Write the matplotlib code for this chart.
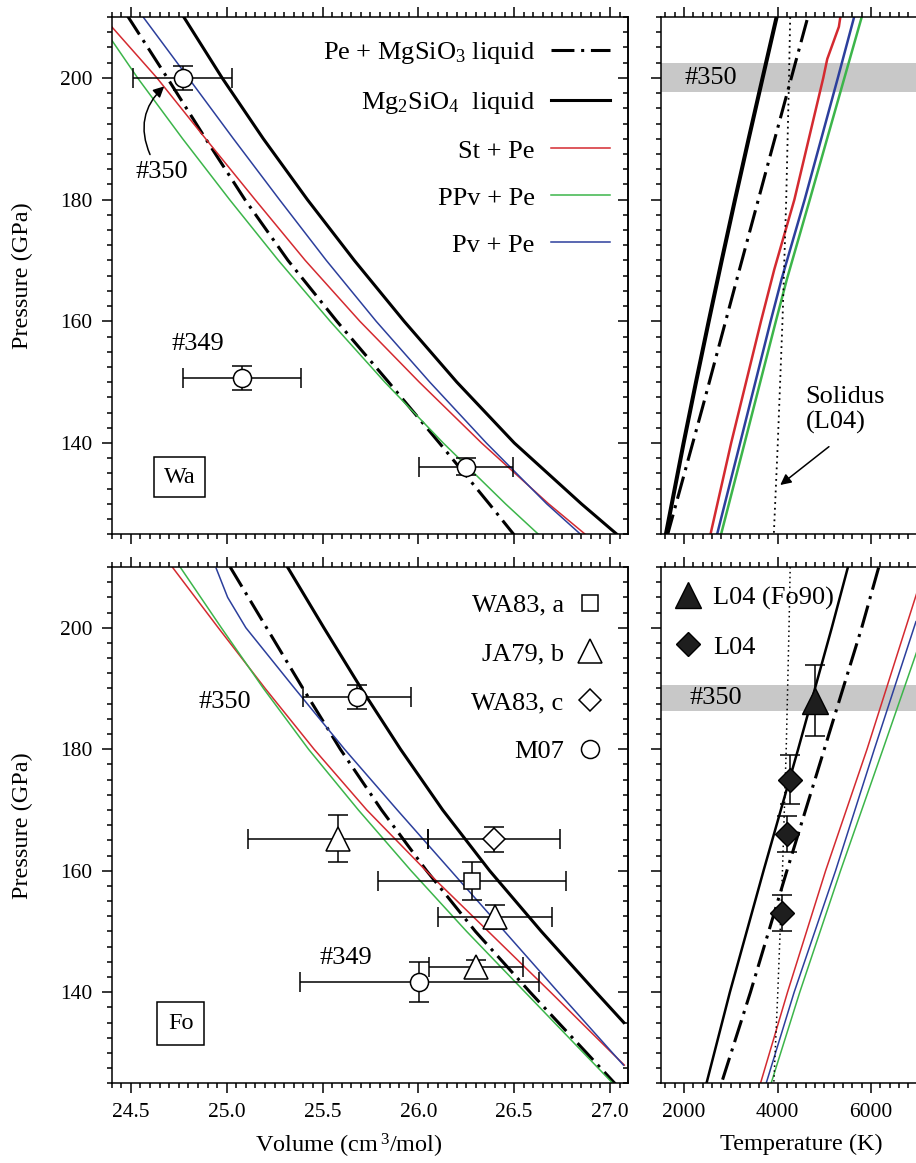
import matplotlib
matplotlib.use('Agg')
import matplotlib.pyplot as plt
from matplotlib.ticker import MultipleLocator, FormatStrFormatter

plt.rcParams['font.family'] = ['Liberation Serif', 'DejaVu Serif']
plt.rcParams['mathtext.fontset'] = 'custom'
plt.rcParams['mathtext.rm'] = 'Liberation Serif'
plt.rcParams['mathtext.it'] = 'Liberation Serif:italic'
plt.rcParams['mathtext.bf'] = 'Liberation Serif:bold'

# ---------------- DATA ----------------
# Wa (top-left): pressure (GPa) vs volume (cm3/mol)
wa_grid_P = [210.3, 200, 190, 180, 170, 160, 150, 140, 130, 124.9]
wa_mg2sio4_V = [24.77, 24.976, 25.191, 25.421, 25.666, 25.926, 26.201, 26.501, 26.851, 27.04]
wa_pemg_V = [24.48, 24.69, 24.89, 25.095, 25.32, 25.575, 25.845, 26.11, 26.37, 26.50]
wa_pv_V = [24.557, 24.80, 25.035, 25.275, 25.52, 25.78, 26.06, 26.355, 26.67, 26.85]
wa_st_P = [208.4, 200, 190, 180, 170, 160, 150, 140, 130, 124.9]
wa_st_V = [24.40, 24.636, 24.89, 25.148, 25.41, 25.695, 26.005, 26.33, 26.68, 26.875]
wa_ppv_P = [206.2, 200, 190, 180, 170, 160, 150, 140, 130, 124.9]
wa_ppv_V = [24.40, 24.535, 24.77, 25.015, 25.27, 25.54, 25.825, 26.13, 26.455, 26.63]
# M07 data (Wa)
wa_m07_V = [24.77, 25.08, 26.25]
wa_m07_P = [200.0, 150.7, 136.1]
wa_m07_Verr = [0.26, 0.31, 0.245]
wa_m07_Perr = [2.0, 2.0, 1.4]

# Fo (bottom-left)
fo_mg2sio4_P = [210, 200, 190, 180, 170, 160, 150, 140, 135]
fo_mg2sio4_V = [25.317, 25.507, 25.702, 25.907, 26.127, 26.372, 26.642, 26.927, 27.072]
fo_grid_P = [210, 200, 190, 180, 170, 160, 150, 140, 130, 124.9]
fo_pemg_V = [25.018, 25.208, 25.398, 25.593, 25.808, 26.043, 26.298, 26.583, 26.878, 27.028]
fo_ppv_V = [24.757, 24.972, 25.192, 25.427, 25.687, 25.962, 26.252, 26.557, 26.862, 27.018]
fo_st_P = [210, 200, 190, 180, 170, 160, 150, 140, 130, 128]
fo_st_V = [24.716, 24.956, 25.201, 25.456, 25.731, 26.04, 26.365, 26.69, 27.01, 27.075]
fo_pv_P = [209.8, 205, 200, 190, 180, 170, 160, 150, 140, 128]
fo_pv_V = [24.945, 25.005, 25.10, 25.355, 25.615, 25.89, 26.17, 26.45, 26.73, 27.07]
# experimental data (Fo)
wa83a_V = [26.28]
wa83a_P = [158.3]
wa83a_Verr = [0.49]
wa83a_Perr = [3.1]
ja79b_V = [25.58, 26.40, 26.30]
ja79b_P = [165.3, 152.4, 144.1]
ja79b_Verr = [0.47, 0.295, 0.245]
ja79b_Perr = [3.8, 2.0, 1.2]
wa83c_V = [26.395]
wa83c_P = [165.2]
wa83c_Verr = [0.345]
wa83c_Perr = [2.05]
fo_m07_V = [25.68, 26.005]
fo_m07_P = [188.6, 141.7]
fo_m07_Verr = [0.28, 0.625]
fo_m07_Perr = [2.0, 3.3]

# Wa temperature panel (top-right): pressure vs temperature (K)
wat_mg2sio4_P = [210.2, 200, 190, 180, 170, 160, 150, 140, 125]
wat_mg2sio4_T = [3986, 3680, 3382, 3090, 2805, 2527, 2255, 1990, 1611]
wat_pemg_P = [209.5, 188, 167.5, 146, 125]
wat_pemg_T = [4630, 3870, 3150, 2400, 1650]
wat_st_P = [210.2, 208.4, 203.1, 200, 180, 168.5, 160, 140, 125.1]
wat_st_T = [5347, 5312, 5063, 4978, 4360, 3929, 3645, 3007, 2568]
wat_pv_P = [210.2, 200, 180, 166.9, 160, 140, 125.1]
wat_pv_T = [5645, 5290, 4580, 4085, 3851, 3199, 2710]
wat_ppv_P = [210.2, 200, 180, 166.9, 160, 140, 125.1]
wat_ppv_T = [5808, 5430, 4690, 4199, 3963, 3295, 2795]

# Fo temperature panel (bottom-right)
fot_mg2sio4_P = [209.9, 200, 180, 160, 140, 124.9]
fot_mg2sio4_T = [5503, 5160, 4440, 3700, 2980, 2476]
fot_pemg_P = [209.9, 200, 180, 160, 140, 124.9]
fot_pemg_T = [6162, 5800, 5000, 4200, 3420, 2795]
fot_st_P = [206, 180, 160, 140, 124.9]
fot_st_T = [6990, 5914, 5028, 4213, 3631]
fot_pv_P = [201, 180, 160, 140, 124.9]
fot_pv_T = [6960, 6070, 5241, 4355, 3752]
fot_ppv_P = [197, 180, 160, 140, 124.9]
fot_ppv_T = [7020, 6255, 5347, 4475, 3858]

# Solidus (L04)
solidus_P = [210, 200, 180, 160, 140, 125]
solidus_T = [4270, 4245, 4185, 4105, 4005, 3920]

# L04 data
l04_fo90_T = [4800]
l04_fo90_P = [188.0]
l04_fo90_Perr = [5.9]
l04_T = [4270, 4210, 4105]
l04_P = [175.0, 166.0, 153.0]
l04_Perr = [4.0, 3.0, 3.0]

# shock #350 pressure bands
wa_350_P, wa_350_dP = 200.0, 2.4
fo_350_P, fo_350_dP = 188.4, 2.1

labels_curves = [r'Pe + MgSiO$_3$ liquid', r'Mg$_2$SiO$_4$  liquid',
                 'St + Pe', 'PPv + Pe', 'Pv + Pe']

# ---------------- STYLE ----------------
RED = '#d42a30'
GREEN = '#3cb54a'
BLUE = '#2c3f9c'
BAND = '#c8c8c8'
DD = (0, (7.5, 2.2, 1.0, 2.2))
TICK_FS = 15.5
LAB_FS = 17.5
TXT_FS = 19

W, H = 916, 1163
fig = plt.figure(figsize=(W / 100, H / 100), dpi=100)

def frac(l, r, t, b):
    return [l / W, 1 - b / H, (r - l) / W, (b - t) / H]

ax_tl = fig.add_axes(frac(111.7, 628.0, 17.0, 534.3))
ax_bl = fig.add_axes(frac(111.7, 628.0, 567.0, 1083.3))
ax_tr = fig.add_axes(frac(660.7, 917.8, 17.0, 534.3))
ax_br = fig.add_axes(frac(660.7, 917.8, 567.0, 1083.3))

def style(ax, xmaj, xmin, xfmt, xlabels, ylabels, right_in):
    ax.xaxis.set_major_locator(MultipleLocator(xmaj))
    ax.xaxis.set_minor_locator(MultipleLocator(xmin))
    ax.xaxis.set_major_formatter(FormatStrFormatter(xfmt))
    ax.yaxis.set_major_locator(MultipleLocator(20))
    ax.yaxis.set_minor_locator(MultipleLocator(2.5))
    ax.tick_params(which='both', direction='out', top=True, bottom=True,
                   left=True, right=False, width=1.1, labelsize=TICK_FS,
                   labelbottom=xlabels, labelleft=ylabels, labeltop=False)
    ax.tick_params(which='major', length=7, pad=7)
    ax.tick_params(which='minor', length=3.6)
    for s in ax.spines.values():
        s.set_linewidth(1.1)
    ax.set_ylim(125, 210)
    if right_in:
        sec = ax.secondary_yaxis('right')
        sec.yaxis.set_major_locator(MultipleLocator(20))
        sec.yaxis.set_minor_locator(MultipleLocator(2.5))
        sec.tick_params(which='both', direction='in', width=1.1, labelright=False)
        sec.tick_params(which='major', length=7)
        sec.tick_params(which='minor', length=3.6)
        sec.spines['right'].set_linewidth(1.1)

for ax in (ax_tl, ax_bl):
    ax.set_xlim(24.4, 27.094)
for ax in (ax_tr, ax_br):
    ax.set_xlim(1500, 7000)

style(ax_tl, 0.5, 0.05, '%.1f', False, True, True)
style(ax_bl, 0.5, 0.05, '%.1f', True, True, True)
style(ax_tr, 2000, 200, '%d', False, False, False)
style(ax_br, 2000, 200, '%d', True, False, False)

# ---------- top-left (Wa) ----------
h_dd, = ax_tl.plot(wa_pemg_V, wa_grid_P, color='black', lw=2.2, linestyle=DD)
h_bk, = ax_tl.plot(wa_mg2sio4_V, wa_grid_P, color='black', lw=2.2)
h_st, = ax_tl.plot(wa_st_V, wa_st_P, color=RED, lw=1.1)
h_ppv, = ax_tl.plot(wa_ppv_V, wa_ppv_P, color=GREEN, lw=1.1)
h_pv, = ax_tl.plot(wa_pv_V, wa_grid_P, color=BLUE, lw=1.1)
eb_kw = dict(fmt='none', ecolor='black', elinewidth=1.1, capsize=7, capthick=1.1, zorder=4)
ax_tl.errorbar(wa_m07_V, wa_m07_P, xerr=wa_m07_Verr, yerr=wa_m07_Perr, **eb_kw)
ax_tl.plot(wa_m07_V, wa_m07_P, 'o', ms=13, mfc='white', mec='black', mew=1.1, zorder=5)
ax_tl.legend([h_dd, h_bk, h_st, h_ppv, h_pv], labels_curves, loc='upper right',
             bbox_to_anchor=(0.965, 0.955), frameon=False, markerfirst=False,
             fontsize=TXT_FS, handlelength=2.25, handletextpad=0.6,
             labelspacing=0.89, borderpad=0, borderaxespad=0)
ax_tl.text(24.66, 184.5, '#350', ha='center', va='center', fontsize=TXT_FS)
ax_tl.annotate('', xy=(24.674, 198.6), xytext=(24.60, 187.4),
               arrowprops=dict(arrowstyle='-|>', connectionstyle='arc3,rad=-0.35',
                               color='black', lw=1.1, mutation_scale=16,
                               shrinkA=0, shrinkB=0))
ax_tl.text(24.85, 156.2, '#349', ha='center', va='center', fontsize=TXT_FS)
ax_tl.text(24.755, 134.4, 'Wa', ha='center', va='center', fontsize=LAB_FS,
           bbox=dict(boxstyle='square,pad=0.4', fc='white', ec='black', lw=1.1))
ax_tl.set_ylabel('Pressure (GPa)', fontsize=LAB_FS)
ax_tl.yaxis.set_label_coords(-0.152, 0.5)

# ---------- bottom-left (Fo) ----------
ax_bl.plot(fo_pemg_V, fo_grid_P, color='black', lw=2.2, linestyle=DD)
ax_bl.plot(fo_mg2sio4_V, fo_mg2sio4_P, color='black', lw=2.2)
ax_bl.plot(fo_st_V, fo_st_P, color=RED, lw=1.1)
ax_bl.plot(fo_ppv_V, fo_grid_P, color=GREEN, lw=1.1)
ax_bl.plot(fo_pv_V, fo_pv_P, color=BLUE, lw=1.1)
ax_bl.errorbar(wa83a_V, wa83a_P, xerr=wa83a_Verr, yerr=wa83a_Perr, **eb_kw)
ax_bl.errorbar(ja79b_V, ja79b_P, xerr=ja79b_Verr, yerr=ja79b_Perr, **eb_kw)
ax_bl.errorbar(wa83c_V, wa83c_P, xerr=wa83c_Verr, yerr=wa83c_Perr, **eb_kw)
ax_bl.errorbar(fo_m07_V, fo_m07_P, xerr=fo_m07_Verr, yerr=fo_m07_Perr, **eb_kw)
mk = dict(mfc='white', mec='black', mew=1.1, zorder=5, linestyle='none')
h_sq, = ax_bl.plot(wa83a_V, wa83a_P, marker='s', ms=11.5, **mk)
h_tri, = ax_bl.plot(ja79b_V, ja79b_P, marker='^', ms=17, **mk)
h_dia, = ax_bl.plot(wa83c_V, wa83c_P, marker='D', ms=11.5, **mk)
h_cir, = ax_bl.plot(fo_m07_V, fo_m07_P, marker='o', ms=13, **mk)
ax_bl.legend([h_sq, h_tri, h_dia, h_cir], ['WA83, a', 'JA79, b', 'WA83, c', 'M07'],
             loc='upper right', bbox_to_anchor=(0.951, 0.949), frameon=False,
             markerfirst=False, numpoints=1, fontsize=TXT_FS, handlelength=1.0,
             handletextpad=0.48, labelspacing=0.96, borderpad=0, borderaxespad=0)
ax_bl.text(24.99, 187.8, '#350', ha='center', va='center', fontsize=TXT_FS)
ax_bl.text(25.62, 145.6, '#349', ha='center', va='center', fontsize=TXT_FS)
ax_bl.text(24.76, 134.8, 'Fo', ha='center', va='center', fontsize=LAB_FS,
           bbox=dict(boxstyle='square,pad=0.45', fc='white', ec='black', lw=1.1))
ax_bl.set_ylabel('Pressure (GPa)', fontsize=LAB_FS)
ax_bl.yaxis.set_label_coords(-0.152, 0.5)
ax_bl.set_xlabel(r'Volume (cm$\,^{3}$/mol)', fontsize=LAB_FS)
ax_bl.xaxis.set_label_coords(0.46, -0.094)

# ---------- top-right (Wa, temperature) ----------
ax_tr.axhspan(wa_350_P - wa_350_dP, wa_350_P + wa_350_dP, color=BAND, lw=0, zorder=0)
ax_tr.plot(wat_mg2sio4_T, wat_mg2sio4_P, color='black', lw=2.9)
ax_tr.plot(wat_pemg_T, wat_pemg_P, color='black', lw=2.2, linestyle=DD)
ax_tr.plot(wat_st_T, wat_st_P, color=RED, lw=1.8)
ax_tr.plot(wat_pv_T, wat_pv_P, color=BLUE, lw=1.8)
ax_tr.plot(wat_ppv_T, wat_ppv_P, color=GREEN, lw=1.8)
ax_tr.plot(solidus_T, solidus_P, color='black', lw=1.3, linestyle=(0, (1, 2.2)))
ax_tr.text(2010, wa_350_P, '#350', ha='left', va='center', fontsize=TXT_FS)
ax_tr.text(4600, 145.4, 'Solidus\n(L04)', ha='left', va='center', fontsize=TXT_FS,
           linespacing=1.15)
ax_tr.annotate('', xy=(4057, 133.1), xytext=(5099, 139.4),
               arrowprops=dict(arrowstyle='-|>', color='black', lw=1.1,
                               mutation_scale=16, shrinkA=0, shrinkB=0))

# ---------- bottom-right (Fo, temperature) ----------
ax_br.axhspan(fo_350_P - fo_350_dP, fo_350_P + fo_350_dP, color=BAND, lw=0, zorder=0)
ax_br.plot(fot_mg2sio4_T, fot_mg2sio4_P, color='black', lw=1.8)
ax_br.plot(fot_pemg_T, fot_pemg_P, color='black', lw=2.2, linestyle=DD)
ax_br.plot(fot_st_T, fot_st_P, color=RED, lw=1.1)
ax_br.plot(fot_pv_T, fot_pv_P, color=BLUE, lw=1.1)
ax_br.plot(fot_ppv_T, fot_ppv_P, color=GREEN, lw=1.1)
ax_br.plot(solidus_T, solidus_P, color='black', lw=1.1, linestyle=(0, (1, 2.2)))
ax_br.errorbar(l04_fo90_T, l04_fo90_P, yerr=l04_fo90_Perr, **eb_kw)
ax_br.errorbar(l04_T, l04_P, yerr=l04_Perr, **eb_kw)
fk = dict(mfc='#1e1e1e', mec='black', mew=1.0, zorder=5, linestyle='none')
h_ftri, = ax_br.plot(l04_fo90_T, l04_fo90_P, marker='^', ms=18.5, **fk)
h_fdia, = ax_br.plot(l04_T, l04_P, marker='D', ms=12.5, **fk)
ax_br.legend([h_ftri, h_fdia], ['L04 (Fo90)', 'L04'], loc='upper left',
             bbox_to_anchor=(0.056, 0.963), frameon=False, numpoints=1,
             fontsize=TXT_FS, handlelength=1.0, handletextpad=0.45,
             labelspacing=0.95, borderpad=0, borderaxespad=0)
ax_br.text(2124, fo_350_P, '#350', ha='left', va='center', fontsize=TXT_FS)
ax_br.set_xlabel('Temperature (K)', fontsize=LAB_FS)
ax_br.xaxis.set_label_coords(0.545, -0.098)

fig.savefig('out.png', dpi=100)
